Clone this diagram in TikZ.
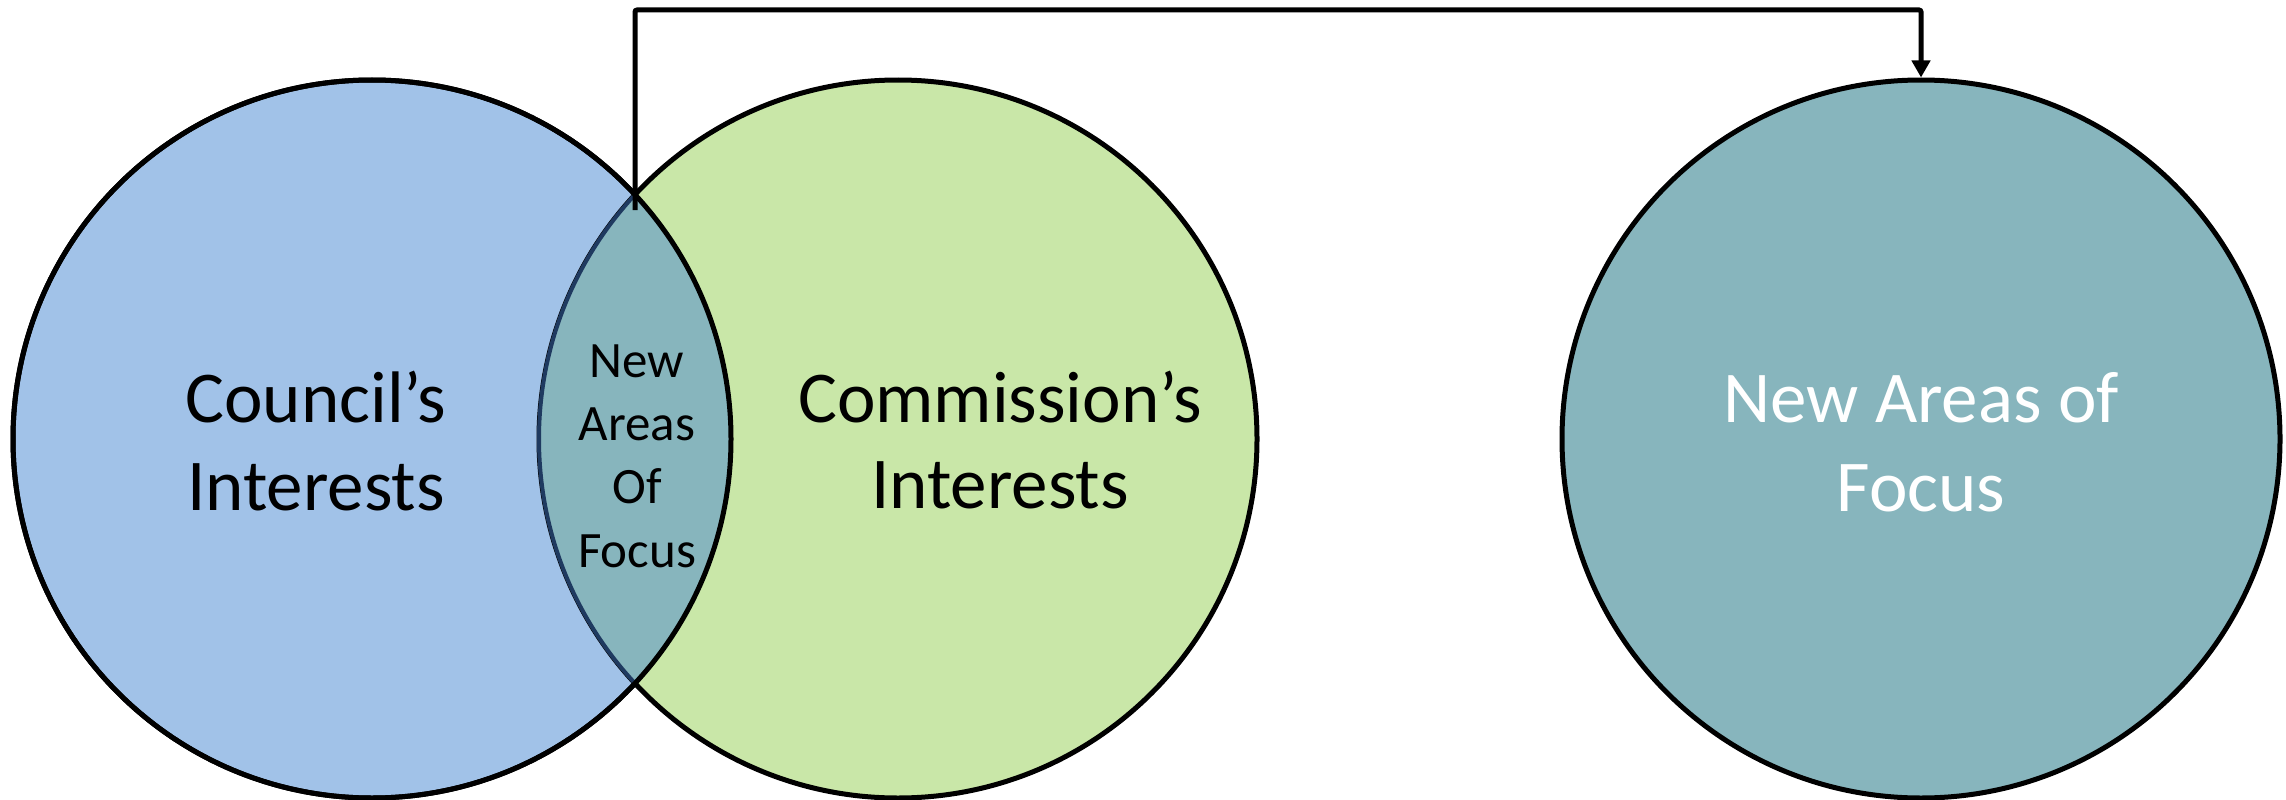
\documentclass[tikz,border=0pt]{standalone}
\usepackage{fontspec}
\setmainfont{Carlito}
\usetikzlibrary{arrows.meta}
\definecolor{cblue}{HTML}{A1C2E8}
\definecolor{cgreen}{HTML}{C9E7A8}
\definecolor{cteal}{HTML}{87B5BD}
\definecolor{cdark}{HTML}{1F3A60}
\begin{document}
\begin{tikzpicture}[x=1pt,y=-1pt,
  venn/.style={circle, draw=black, line width=5pt, minimum size=718pt, inner sep=0pt},
  big/.style={font=\fontsize{73}{89}\selectfont, anchor=base, inner sep=0pt},
  small/.style={font=\fontsize{51}{63}\selectfont, anchor=base, inner sep=0pt},
  link/.style={line width=5pt, -{Triangle[length=17pt,width=18pt]}, rounded corners=2pt}]
\useasboundingbox (0,0) rectangle (2286,800);
\fill[white] (0,0) rectangle (2286,800);
% circles
\node[venn, fill=cblue] (council) at (372,439) {};
\node[venn, fill=cgreen] (commission) at (898,439) {};
\begin{scope}
  \clip (372,439) circle[radius=359];
  \fill[cteal] (898,439) circle[radius=359];
  \draw[cdark, line width=4pt] (898,439) circle[radius=359];
\end{scope}
\draw[line width=5pt] (372,439) circle[radius=359];
\node[venn, fill=cteal] (newfocus) at (1921,439) {};
% connector
\coordinate (stub) at (635,210);
\coordinate (bend) at (635,10);
\draw[link] (stub) -- (bend) -| (newfocus.north);
% texts
\node[big] (t1a) at (316,422) {Council’s};
\node[big] (t1b) at (316,510) {Interests};
\node[big] (t2a) at (1000,422) {Commission’s};
\node[big] (t2b) at (1000,508) {Interests};
\node[big, text=white] (t3a) at (1921,422) {New Areas of};
\node[big, text=white] (t3b) at (1921,511) {Focus};
\node[small] (l1) at (637,377) {New};
\node[small] (l2) at (637,440) {Areas};
\node[small] (l3) at (637,503) {Of};
\node[small] (l4) at (637,567) {Focus};
\end{tikzpicture}
\end{document}
